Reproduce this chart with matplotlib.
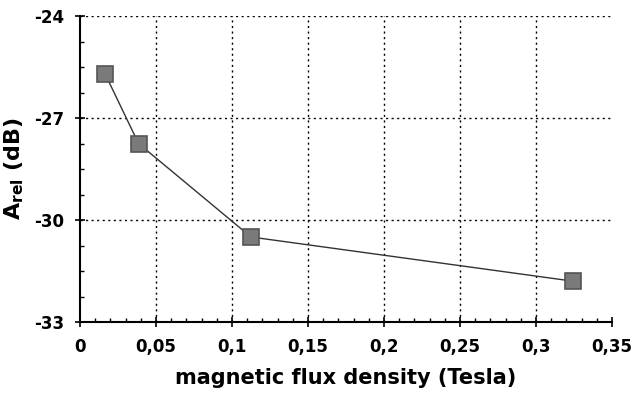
import numpy as np
from matplotlib import pyplot as plt
from matplotlib.ticker import MultipleLocator, FuncFormatter

flux = [0.0165, 0.0385, 0.1125, 0.3245]
a_rel = [-25.7, -27.75, -30.5, -31.8]

xticks = [0, 0.05, 0.1, 0.15, 0.2, 0.25, 0.3, 0.35]
yticks = [-33, -30, -27, -24]

plt.rcParams['font.family'] = ['DejaVu Sans']
plt.rcParams['font.weight'] = 'bold'

fig = plt.figure(figsize=(6.31, 3.94), dpi=100)
ax = fig.add_axes([80/631, 1 - 322/394, (612-80)/631, (322-16)/394])

ax.plot(flux, a_rel, color='#333333', lw=1.0, marker='s', markersize=11,
        markerfacecolor='#7a7a7a', markeredgecolor='#555555', markeredgewidth=1.2)

ax.set_xlim(0, 0.35)
ax.set_ylim(-33, -24)
ax.set_xticks(xticks)
ax.set_yticks(yticks)
ax.xaxis.set_minor_locator(MultipleLocator(0.01))
ax.yaxis.set_minor_locator(MultipleLocator(0.75))
ax.xaxis.set_major_formatter(FuncFormatter(lambda v, p: ('%g' % round(v, 2)).replace('.', ',')))
ax.yaxis.set_major_formatter(FuncFormatter(lambda v, p: '%d' % v))

ax.grid(True, which='major', color='black', linestyle=(0, (1.5, 2.5)), lw=1.0)
ax.xaxis.get_gridlines()[-1].set_visible(False)
ax.xaxis.get_gridlines()[0].set_visible(False)
ax.yaxis.get_gridlines()[0].set_visible(False)
for s in ['top', 'right']:
    ax.spines[s].set_visible(False)
ax.spines['left'].set_linewidth(1.5)
ax.spines['bottom'].set_linewidth(1.5)
ax.tick_params(which='major', direction='inout', length=7, width=1.2, labelsize=12, pad=8)
ax.tick_params(which='minor', direction='in', length=3, width=1)

ax.set_xlabel('magnetic flux density (Tesla)', fontsize=15, fontweight='bold', labelpad=9)
ax.set_ylabel(r'A$_{\mathregular{rel}}$ (dB)', fontsize=16, fontweight='bold', labelpad=6)

fig.savefig('out.png', dpi=100)
